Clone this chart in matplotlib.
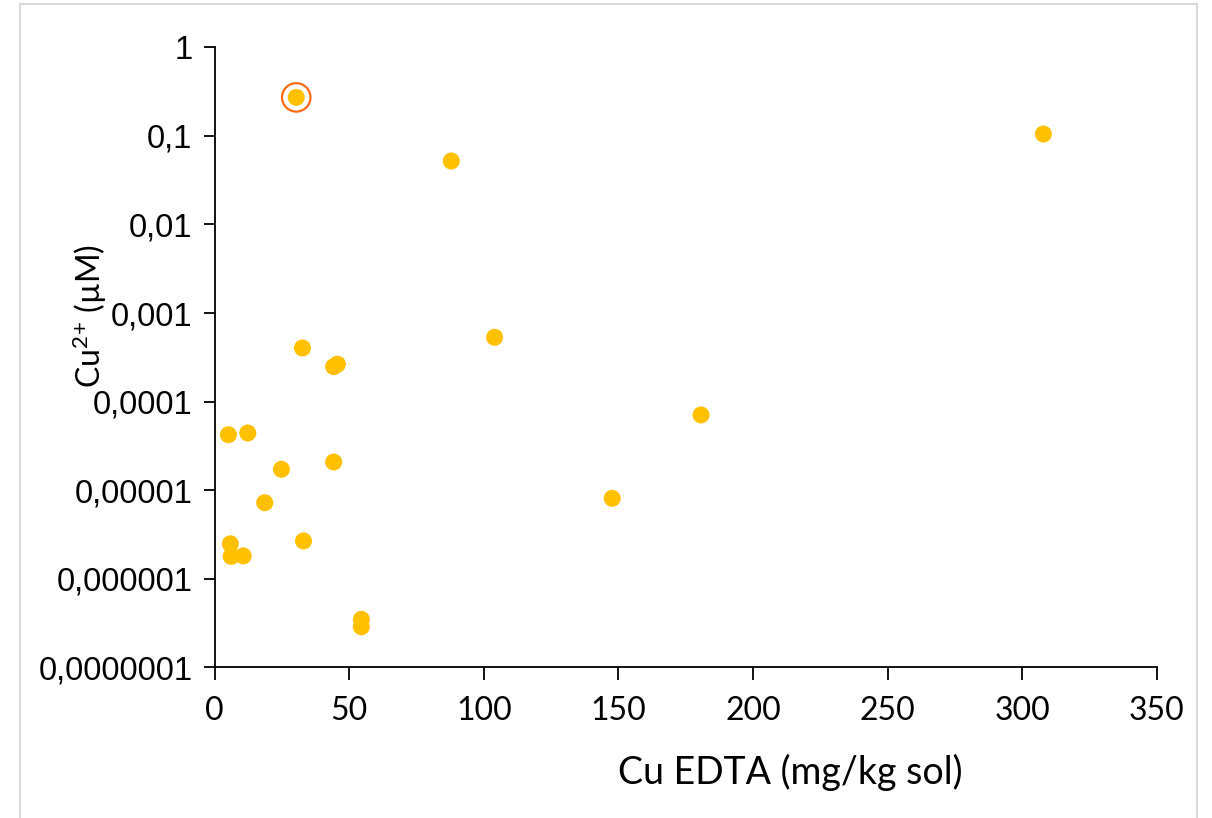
import matplotlib
matplotlib.use("Agg")
import matplotlib.pyplot as plt
from matplotlib.patches import Rectangle
from matplotlib.ticker import FixedLocator, FixedFormatter, NullLocator

plt.rcParams["mathtext.fontset"] = "custom"
plt.rcParams["mathtext.rm"] = "Lato"
plt.rcParams["mathtext.it"] = "Lato"
plt.rcParams["mathtext.default"] = "regular"

# Data (Cu EDTA mg/kg soil vs Cu2+ µM)
cu_edta = [30.3, 87.9, 307.9, 104.0, 32.6, 44.2, 45.6, 180.7, 5.1, 12.3,
           24.8, 44.2, 147.7, 18.6, 5.8, 6.1, 10.6, 33.0, 54.5, 54.5]
cu_free = [0.272, 0.052, 0.105, 5.32e-4, 4.03e-4, 2.48e-4, 2.64e-4, 7.07e-5,
           4.23e-5, 4.42e-5, 1.72e-5, 2.08e-5, 8.09e-6, 7.21e-6, 2.48e-6,
           1.79e-6, 1.81e-6, 2.67e-6, 3.48e-7, 2.87e-7]
highlight_x = [30.3]
highlight_y = [0.272]

y_ticks = [1e-7, 1e-6, 1e-5, 1e-4, 1e-3, 1e-2, 1e-1, 1]
y_labels = ["0,0000001", "0,000001", "0,00001", "0,0001", "0,001", "0,01", "0,1", "1"]
x_ticks = [0, 50, 100, 150, 200, 250, 300, 350]

W, H = 1212, 818
fig = plt.figure(figsize=(W / 100, H / 100), dpi=100)
fig.patch.set_facecolor("white")

# light gray chart border
fig.add_artist(Rectangle((20 / W, -0.01), (1197 - 20) / W, 1.01 - 4 / H,
                         transform=fig.transFigure, fill=False,
                         edgecolor="#D9D9D9", linewidth=1.5))

ax = fig.add_axes([214.7 / W, 1 - 667.3 / H, (1156.7 - 214.7) / W, (667.3 - 47.3) / H])
ax.set_yscale("log")
ax.set_xlim(0, 350)
ax.set_ylim(1e-7, 1)

ax.scatter(cu_edta, cu_free, s=150, color="#FFC000", edgecolors="none", zorder=3)
ax.scatter(highlight_x, highlight_y, s=420, facecolors="none",
           edgecolors="#FF6A13", linewidths=1.6, zorder=4)

for sp in ["top", "right"]:
    ax.spines[sp].set_visible(False)
for sp in ["left", "bottom"]:
    ax.spines[sp].set_linewidth(1.3)
    ax.spines[sp].set_color("black")

ax.yaxis.set_major_locator(FixedLocator(y_ticks))
ax.yaxis.set_major_formatter(FixedFormatter(y_labels))
ax.yaxis.set_minor_locator(NullLocator())
ax.set_xticks(x_ticks)
ax.set_xticklabels([str(v) for v in x_ticks])

ax.tick_params(axis="y", direction="out", length=8, width=1.3, pad=8,
               labelsize=23.5)
ax.tick_params(axis="x", direction="out", length=9, width=1.3, pad=12,
               labelsize=23)
for lab in ax.get_yticklabels():
    lab.set_fontfamily("Liberation Sans")
for lab in ax.get_xticklabels():
    lab.set_fontfamily("Lato")

fig.text(790 / W, 1 - 772 / H, "Cu EDTA (mg/kg sol)", ha="center", va="center",
         fontsize=27, family="Lato")
fig.text(90 / W, 1 - 316 / H, "Cu$^{2}$$^{+}$ (µM)", ha="center", va="center",
         rotation=90, fontsize=23, family="Lato")

fig.savefig("out.png", dpi=100, facecolor="white")
